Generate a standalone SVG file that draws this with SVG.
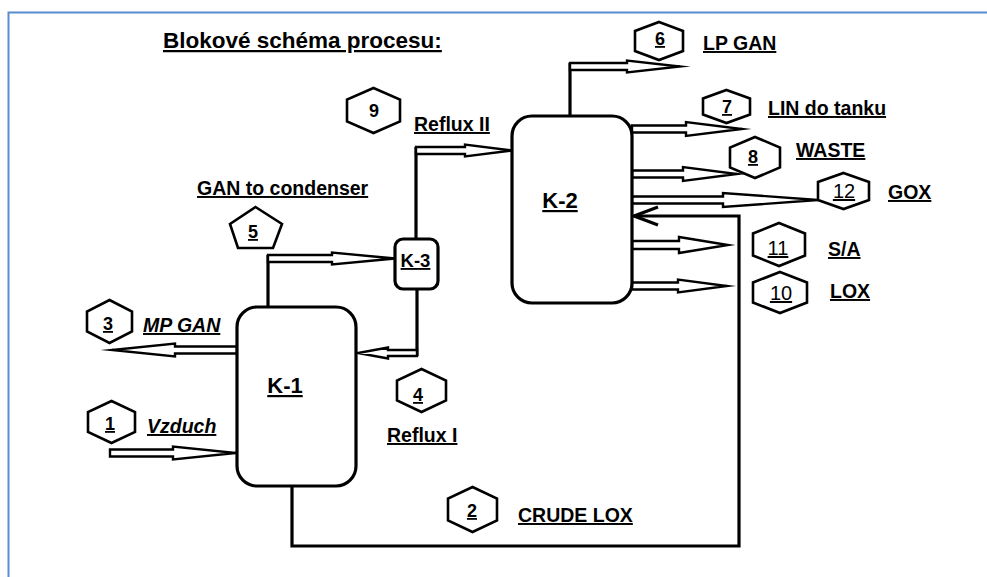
<svg xmlns="http://www.w3.org/2000/svg" width="987" height="577" viewBox="0 0 987 577">
<style>
text { font-family: "Liberation Sans", Arial, sans-serif; fill: #000; }
.ttl { font-size: 22.5px; font-weight: bold; text-decoration: underline; }
.lbl { font-size: 19.5px; font-weight: bold; text-decoration: underline; }
.it { font-style: italic; }
.klbl { font-size: 22px; font-weight: bold; text-decoration: underline; text-anchor: middle; }
.num { font-size: 18px; text-anchor: middle; text-decoration: underline; font-weight: bold; }
.num2 { font-weight: normal; font-size: 20px; }
.box { fill: #fff; stroke: #000; stroke-width: 3.2; }
.hex { fill: #fff; stroke: #000; stroke-width: 2.6; stroke-linejoin: miter; }
.line { fill: none; stroke: #000; stroke-width: 3.2; }
.arr { fill: #fff; stroke: #000; stroke-width: 2.4; stroke-linejoin: miter; stroke-miterlimit: 10; }
</style>
<rect x="0" y="0" width="987" height="577" fill="#fff"/>
<rect x="8.5" y="12.5" width="1000" height="600" fill="none" stroke="#5b8bd0" stroke-width="2"/>
<text class="ttl" x="163" y="48">Blokové schéma procesu:</text>

<g id="connectors">
  <!-- 1 Vzduch -->
  <polygon class="arr" points="110,449.5 173,449.5 173,446.5 236,453 173,459.5 173,456.5 110,456.5"/>
  <!-- 3 MP GAN -->
  <polygon class="arr" points="237,346.5 175,346.5 175,343.5 112,350 175,356.5 175,353.5 237,353.5"/>
  <!-- 5 GAN to condenser -->
  <line class="line" x1="268" y1="307" x2="268" y2="255"/>
  <polygon class="arr" points="268,255 332,255 332,252.5 395,258.5 332,264.5 332,262 268,262"/>
  <!-- 4 Reflux I -->
  <line class="line" x1="417" y1="289" x2="417" y2="356"/>
  <polygon class="arr" points="417,350 388,350 388,347.5 358,353 388,358.5 388,356 417,356"/>
  <!-- 9 Reflux II -->
  <line class="line" x1="416" y1="239" x2="416" y2="147"/>
  <polygon class="arr" points="416,147 465,147 465,144.5 512,150.5 465,156.5 465,154 416,154"/>
  <!-- 6 LP GAN -->
  <line class="line" x1="570" y1="116" x2="570" y2="63"/>
  <polygon class="arr" points="570,63 627,63 627,60.5 680,66.5 627,72.5 627,70 570,70"/>
  <!-- 7 LIN do tanku -->
  <polygon class="arr" points="632,125.5 686,125.5 686,122 742,129 686,136 686,132.5 632,132.5"/>
  <!-- 8 WASTE -->
  <polygon class="arr" points="632,170.5 683,170.5 683,167 737,174 683,181 683,177.5 632,177.5"/>
  <!-- 12 GOX -->
  <polygon class="arr" points="632,196.5 723,196.5 723,193 818,200 723,207 723,203.5 632,203.5"/>
  <!-- 11 S/A -->
  <polygon class="arr" points="632,241 679,241 679,237 728,245 679,253 679,249 632,249"/>
  <!-- 10 LOX -->
  <polygon class="arr" points="632,282.5 678,282.5 678,279.5 727,286 678,292.5 678,289.5 632,289.5"/>
  <!-- 2 CRUDE LOX -->
  <polyline class="line" points="292,486 292,546 739,546 739,216 634,216"/>
  <polyline class="line" points="658,207 634,216 658,225"/>
</g>

<g id="K-1">
  <rect class="box" x="237" y="307" width="119" height="179" rx="20" ry="20"/>
  <text class="klbl" x="285" y="393">K-1</text>
</g>
<g id="K-2">
  <rect class="box" x="512" y="116" width="120" height="187" rx="20" ry="20"/>
  <text class="klbl" x="560" y="208">K-2</text>
</g>
<g id="K-3">
  <rect class="box" x="395" y="239" width="43" height="50" rx="8" ry="8"/>
  <text class="klbl" x="415.5" y="267" style="font-size:18.5px">K-3</text>
</g>

<g id="n9">
  <polygon class="hex" points="373.5,88 400,99.5 400,121.5 373.5,133 347,121.5 347,99.5"/>
  <text class="num" x="374" y="117" style="text-decoration:none">9</text>
</g>
<g id="n6">
  <polygon class="hex" points="659,22 683,31 683,51 659,60 635,51 635,31"/>
  <text class="num" x="660" y="45">6</text>
</g>
<g id="n7">
  <polygon class="hex" points="726.5,90 750,98.5 750,114.5 726.5,123 703,114.5 703,98.5"/>
  <text class="num" x="727" y="113">7</text>
</g>
<g id="n8">
  <polygon class="hex" points="755,137 780,147.5 780,167.5 755,178 730,167.5 730,147.5"/>
  <text class="num" x="753" y="163">8</text>
</g>
<g id="n12">
  <polygon class="hex" points="843.5,173 869,182 869,200 843.5,209 818,200 818,182"/>
  <text class="num num2" x="844" y="198">12</text>
</g>
<g id="n11">
  <polygon class="hex" points="779,223 805,233.5 805,255.5 779,266 753,255.5 753,233.5"/>
  <text class="num num2" x="778" y="255">11</text>
</g>
<g id="n10">
  <polygon class="hex" points="780,272 807,282.5 807,302.5 780,313 753,302.5 753,282.5"/>
  <text class="num num2" x="781" y="300">10</text>
</g>
<g id="n3">
  <polygon class="hex" points="109.5,300 132,311.5 132,331.5 109.5,343 87,331.5 87,311.5"/>
  <text class="num" x="108" y="330">3</text>
</g>
<g id="n1">
  <polygon class="hex" points="111.5,401 135,412 135,432 111.5,443 88,432 88,412"/>
  <text class="num" x="110" y="430">1</text>
</g>
<g id="n4">
  <polygon class="hex" points="421.5,369 446,380.5 446,400.5 421.5,412 397,400.5 397,380.5"/>
  <text class="num" x="418" y="401">4</text>
</g>
<g id="n2">
  <polygon class="hex" points="472.5,487 497,498.5 497,520.5 472.5,532 448,520.5 448,498.5"/>
  <text class="num" x="472" y="517">2</text>
</g>
<g id="n5">
  <polygon class="hex" points="255.5,207 282,224 273,248 238,248 230,224"/>
  <text class="num" x="253" y="238">5</text>
</g>

<g id="labels">
  <text class="lbl" x="703" y="50">LP GAN</text>
  <text class="lbl" x="768" y="115">LIN do tanku</text>
  <text class="lbl" x="796" y="157">WASTE</text>
  <text class="lbl" x="888" y="199">GOX</text>
  <text class="lbl" x="828" y="256">S/A</text>
  <text class="lbl" x="830" y="298">LOX</text>
  <text class="lbl" x="414" y="131">Reflux II</text>
  <text class="lbl" x="197" y="195">GAN to condenser</text>
  <text class="lbl it" x="143" y="332">MP GAN</text>
  <text class="lbl it" x="147" y="433">Vzduch</text>
  <text class="lbl" x="387" y="442">Reflux I</text>
  <text class="lbl" x="518" y="522">CRUDE LOX</text>
</g>
</svg>
